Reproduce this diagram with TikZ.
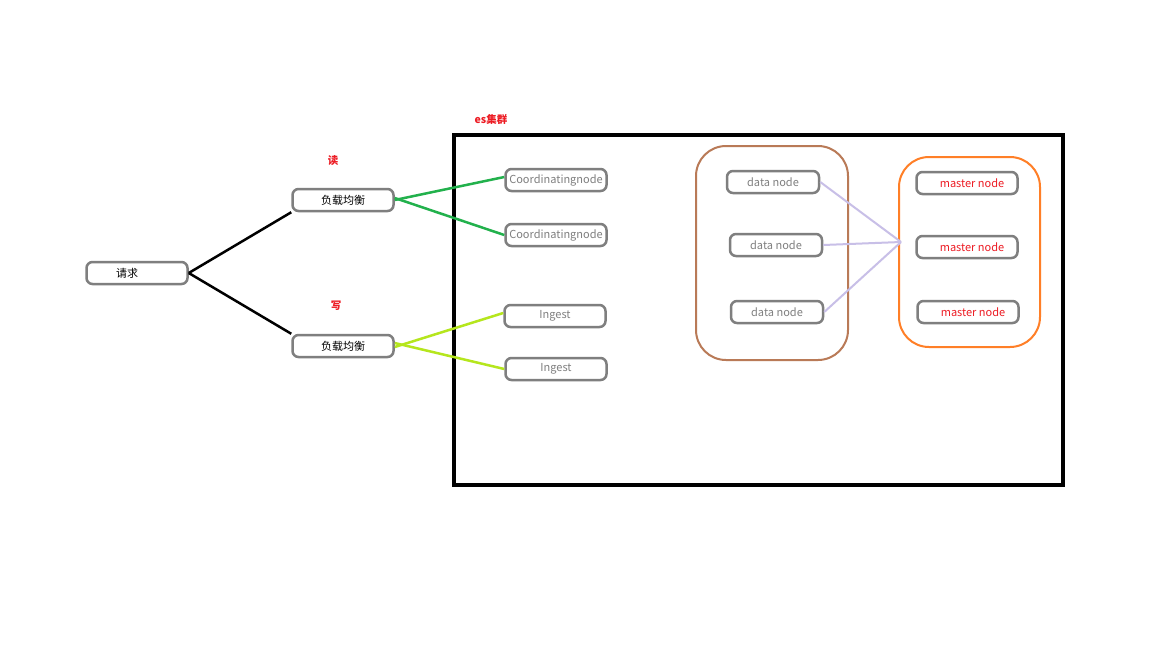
\documentclass[tikz,border=0pt]{standalone}
\usepackage{fontspec}
\setmainfont{Noto Sans CJK SC}
\usepackage{tikz}
\definecolor{boxgray}{RGB}{127,127,127}
\definecolor{redtext}{RGB}{237,28,36}
\definecolor{readgreen}{RGB}{34,177,76}
\definecolor{writelime}{RGB}{181,230,29}
\definecolor{datalink}{RGB}{200,191,231}
\definecolor{databrown}{RGB}{185,122,87}
\definecolor{masterorange}{RGB}{255,127,39}
\tikzstyle{box}=[draw=boxgray, line width=2.5pt, rounded corners=6pt, minimum width=101pt, minimum height=22pt, inner sep=0pt, font=\fontsize{11}{13}\selectfont]
\tikzstyle{graytext}=[text=boxgray]
\tikzstyle{redlabel}=[text=redtext, font=\fontsize{10.5}{12}\selectfont\bfseries]

\begin{document}
\begin{tikzpicture}[x=1pt, y=-1pt]
		   \useasboundingbox[fill=white] (0, 0) rectangle (1152, 648);
		   % cluster frame and groups
		   \draw[line width=4pt] (454, 135) rectangle (1063, 485);
		   \draw[draw=databrown, line width=2pt, rounded corners=30pt] (696, 146) rectangle (848, 360);
		   \draw[draw=masterorange, line width=2pt, rounded corners=30pt] (899, 157) rectangle (1040, 347);
		   \node at (491, 119)[redlabel] (cluster) {es集群};
		   \node at (333, 161)[redlabel] (read) {读};
		   \node at (336, 306)[redlabel] (write) {写};
		   % request side
		   \node at (137, 273)[box] (req) {\hspace*{-20pt}请求};
		   \node at (343, 200)[box] (lbread) {负载均衡};
		   \node at (343, 346)[box] (lbwrite) {负载均衡};
		   % coordinating and ingest
		   \node at (556, 180)[box, graytext] (coord1) {Coordinatingnode};
		   \node at (556, 235)[box, graytext] (coord2) {Coordinatingnode};
		   \node at (555, 316)[box, graytext] (ingest1) {Ingest};
		   \node at (556, 369)[box, graytext] (ingest2) {Ingest};
		   % data and master
		   \node at (773, 182)[box, graytext, minimum width=92pt] (data1) {data node};
		   \node at (776, 245)[box, graytext, minimum width=92pt] (data2) {data node};
		   \node at (777, 312)[box, graytext, minimum width=92pt] (data3) {data node};
		   \node at (967, 183)[box, text=redtext] (master1) {\hspace*{10pt}master node};
		   \node at (967, 247)[box, text=redtext] (master2) {\hspace*{10pt}master node};
		   \node at (968, 312)[box, text=redtext] (master3) {\hspace*{10pt}master node};
		   \coordinate (hub) at (901, 242);
		   % links
		   \draw[line width=2.5pt] (req.east) -- (lbread.south west);
		   \draw[line width=2.5pt] (req.east) -- (lbwrite.north west);
		   \draw[readgreen, line width=2.5pt] ([yshift=0pt]lbread.east) -- ([yshift=3pt]coord1.west);
		   \draw[readgreen, line width=2.5pt] ([yshift=2pt]lbread.east) -- (coord2.west);
		   \draw[writelime, line width=2.5pt] ([yshift=-1pt]lbwrite.east) -- ([yshift=3pt]ingest1.west);
		   \draw[writelime, line width=2.5pt] ([yshift=3pt]lbwrite.east) -- (ingest2.west);
		   \draw[datalink, line width=2pt] (data1.east) -- (hub);
		   \draw[datalink, line width=2pt] (data2.east) -- (hub);
		   \draw[datalink, line width=2pt] (data3.east) -- (hub);
	   \end{tikzpicture}
\end{document}
